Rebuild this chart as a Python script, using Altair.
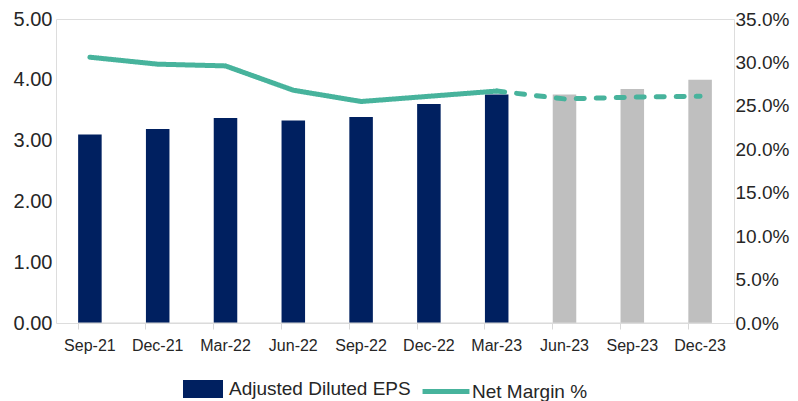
import altair as alt
import pandas as pd

# ---- data ----
MONTHS = ["Sep-21", "Dec-21", "Mar-22", "Jun-22", "Sep-22",
          "Dec-22", "Mar-23", "Jun-23", "Sep-23", "Dec-23"]
EPS = [3.10, 3.19, 3.37, 3.33, 3.39, 3.60, 3.76, 3.76, 3.85, 4.00]
NET_MARGIN_PCT = [30.6, 29.8, 29.6, 26.8, 25.5, 26.1, 26.7, 25.8, 26.0, 26.1]
N_ACTUAL = 7  # Sep-21 .. Mar-23 are actuals, the rest estimates

EPS_LBL = "Adjusted Diluted EPS"
EPS_EST_LBL = "Adjusted Diluted EPS (est.)"
MARGIN_LBL = "Net Margin %"

NAVY = "#002060"
GREY = "#BFBFBF"
TEAL = "#47B39C"
AXIS_GREY = "#D9D9D9"
TEXT = "#262626"
FONT = "Liberation Sans"

bars_df = pd.DataFrame({
    "month": MONTHS,
    "eps": EPS,
    "series": [EPS_LBL if i < N_ACTUAL else EPS_EST_LBL for i in range(len(MONTHS))],
})

line_rows = []
for i, (m, v) in enumerate(zip(MONTHS, NET_MARGIN_PCT)):
    if i < N_ACTUAL:
        line_rows.append({"month": m, "margin": v / 100, "segment": "actual", "idx": i, "series": MARGIN_LBL})
    if i >= N_ACTUAL - 1:
        line_rows.append({"month": m, "margin": v / 100, "segment": "estimate", "idx": i, "series": MARGIN_LBL})
line_df = pd.DataFrame(line_rows)

base_df = pd.DataFrame({"start": [MONTHS[0]], "end": [MONTHS[-1]], "zero": [0]})

# ---- shared encodings ----
x_scale = alt.Scale(domain=MONTHS, paddingInner=0.653, paddingOuter=0.3265)
x_axis = alt.Axis(title=None, labelAngle=0, bandPosition=0,
                  domain=False, ticks=True, tickSize=6, tickColor=AXIS_GREY,
                  labelFontSize=16, labelPadding=8, labelColor=TEXT, labelFont=FONT)

y_left_scale = alt.Scale(domain=[0, 5], nice=False)
y_left_axis = alt.Axis(title=None, values=[0, 1, 2, 3, 4, 5], format=".2f", grid=False,
                       domain=False, ticks=False, labelFontSize=20, labelPadding=4,
                       labelColor=TEXT, labelFont=FONT)

y_right_scale = alt.Scale(domain=[0, 0.35], nice=False)
y_right_axis = alt.Axis(title=None, orient="right",
                        values=[0, 0.05, 0.10, 0.15, 0.20, 0.25, 0.30, 0.35],
                        format=".1%", grid=False, domain=False, ticks=False,
                        labelFontSize=19, labelPadding=1, labelColor=TEXT, labelFont=FONT)

fill_scale = alt.Scale(domain=[EPS_LBL, EPS_EST_LBL], range=[NAVY, GREY])
bar_legend = alt.Legend(
    orient="none", legendX=127, legendY=350, direction="horizontal", title=None,
    values=[EPS_LBL], labelFontSize=19, labelFont=FONT, labelColor=TEXT, labelLimit=400,
    symbolType="M-1,-0.45H1V0.45H-1Z", symbolSize=1600, symbolStrokeWidth=0,
    symbolOpacity=1, labelOffset=6, padding=0,
)

stroke_scale = alt.Scale(domain=[MARGIN_LBL], range=[TEAL])
line_legend = alt.Legend(
    orient="none", legendX=364, legendY=346.5, direction="horizontal", title=None,
    labelFontSize=19, labelFont=FONT, labelColor=TEXT, labelLimit=400,
    symbolType="stroke", symbolSize=2200, symbolStrokeWidth=5,
    symbolOpacity=1, labelOffset=0, padding=0,
)

bars = alt.Chart(bars_df).mark_bar().encode(
    x=alt.X("month:N", scale=x_scale, axis=x_axis, sort=MONTHS),
    y=alt.Y("eps:Q", scale=y_left_scale, axis=y_left_axis),
    fill=alt.Fill("series:N", scale=fill_scale, legend=bar_legend),
)

baseline = alt.Chart(base_df).mark_rule(color=AXIS_GREY, strokeWidth=1).encode(
    x=alt.X("start:N", scale=x_scale, axis=x_axis, sort=MONTHS, bandPosition=0),
    x2=alt.X2("end", bandPosition=1),
    y=alt.Y("zero:Q", scale=y_left_scale, axis=y_left_axis),
)

line = alt.Chart(line_df).mark_line(strokeWidth=5, strokeCap="round", strokeJoin="round").encode(
    x=alt.X("month:N", scale=x_scale, axis=x_axis, sort=MONTHS),
    y=alt.Y("margin:Q", scale=y_right_scale, axis=y_right_axis),
    stroke=alt.Stroke("series:N", scale=stroke_scale, legend=line_legend),
    strokeDash=alt.StrokeDash("segment:N",
                              scale=alt.Scale(domain=["actual", "estimate"], range=[[1, 0], [8, 12]]),
                              legend=None),
    order=alt.Order("idx:Q"),
)

chart = alt.layer(alt.layer(bars, baseline), line).resolve_scale(
    y="independent"
).properties(
    width=678, height=304,
    autosize=alt.AutoSizeParams(type="none"),
    padding={"left": 48, "top": 11, "right": 56, "bottom": 78},
).configure_view(stroke=None).configure(background="white")

chart.save("out.html", embed_options={"renderer": "svg", "actions": False})
